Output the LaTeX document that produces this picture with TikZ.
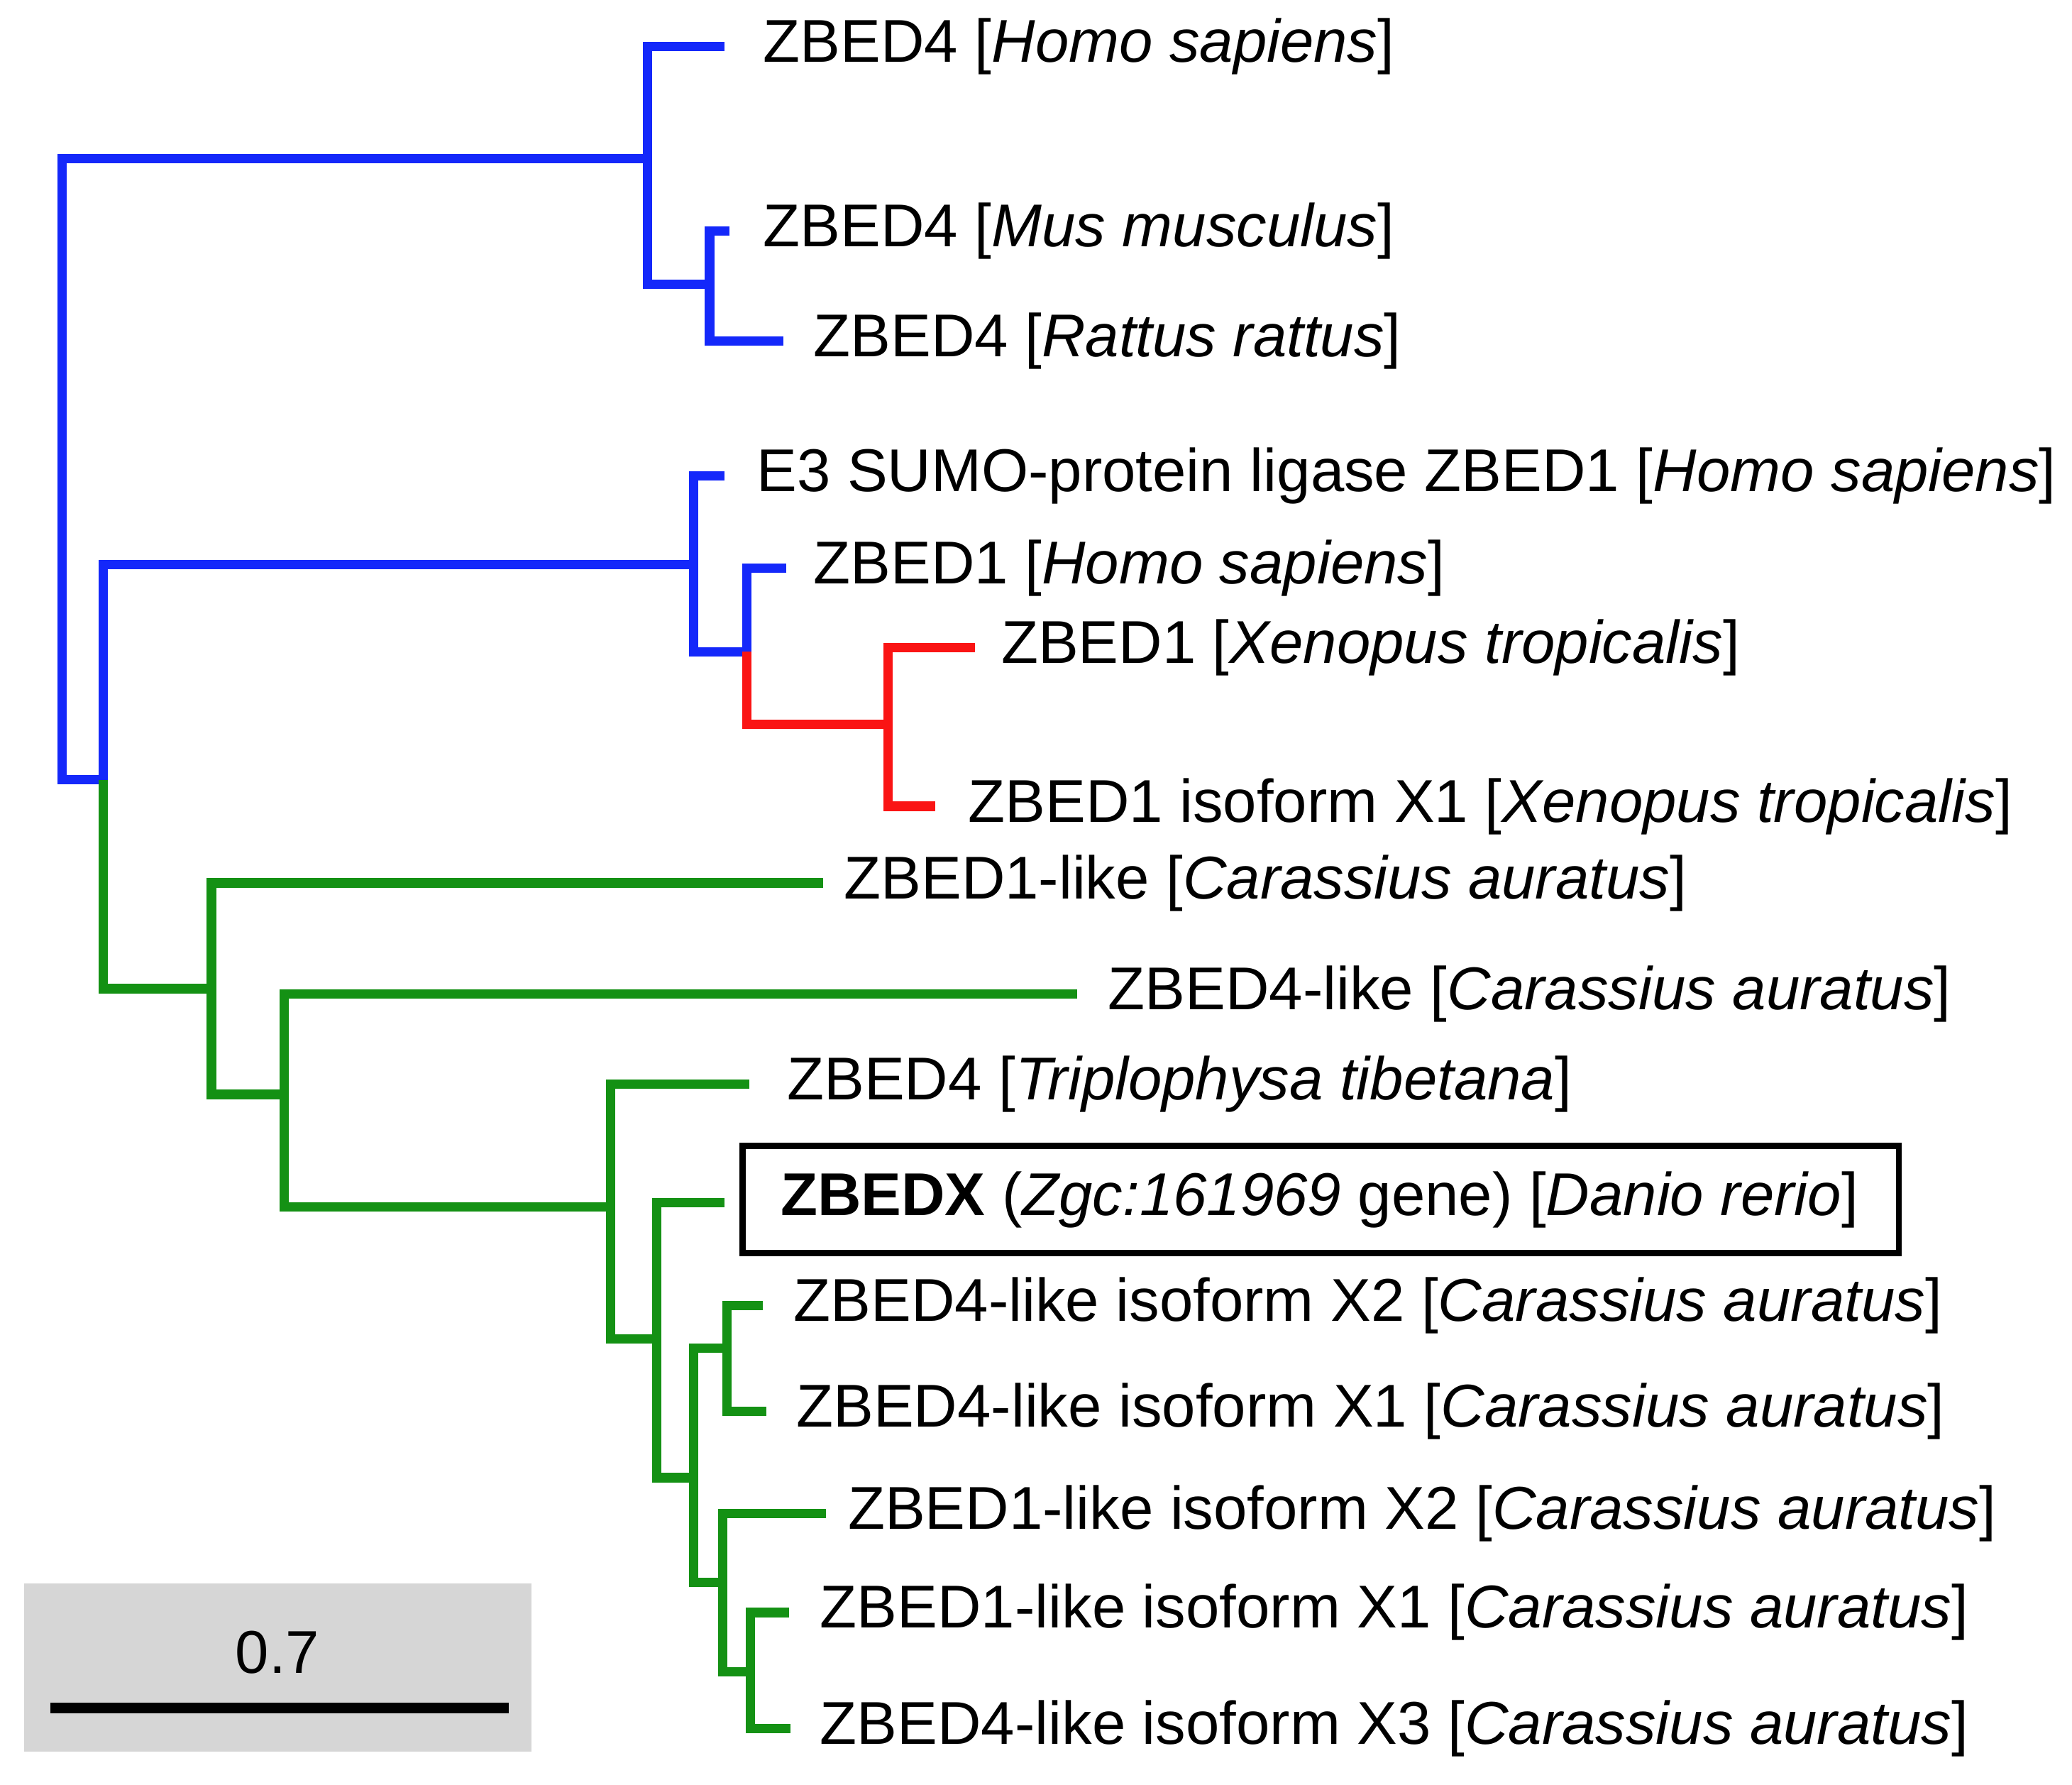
\documentclass[tikz,border=0pt]{standalone}
\usepackage{fontspec}
\setmainfont{Liberation Sans}
\definecolor{tb}{RGB}{20,40,250}
\definecolor{tr}{RGB}{250,20,20}
\definecolor{tg}{RGB}{20,145,20}
\begin{document}
\begin{tikzpicture}[x=0.01cm,y=-0.01cm,line join=miter,
  br/.style={line width=2pt},
  lab/.style={anchor=west,inner sep=0pt,font=\fontsize{13pt}{15pt}\selectfont}]
\useasboundingbox (0,0) rectangle (1568,1350);
% blue
\draw[br,tb] (490,120) -- (47,120) -- (47,590) -- (78,590);
\draw[br,tb] (548,35) -- (490,35) -- (490,215) -- (537,215);
\draw[br,tb] (552,175) -- (537,175) -- (537,258) -- (593,258);
\draw[br,tb] (78,590) -- (78,427) -- (525,427);
\draw[br,tb] (548,360) -- (525,360) -- (525,493) -- (565,493);
\draw[br,tb] (595,430) -- (565,430) -- (565,493);
\draw[br,tr] (565,493) -- (565,548) -- (672,548);
\draw[br,tr] (738,490) -- (672,490) -- (672,610) -- (708,610);
% green
\draw[br,tg] (78,590) -- (78,748) -- (160,748);
\draw[br,tg] (623,668) -- (160,668) -- (160,828) -- (215,828);
\draw[br,tg] (815,752) -- (215,752) -- (215,913) -- (462,913);
\draw[br,tg] (567,820) -- (462,820) -- (462,1013) -- (497,1013);
\draw[br,tg] (548,910) -- (497,910) -- (497,1118) -- (525,1118);
\draw[br,tg] (550,1020) -- (525,1020) -- (525,1197) -- (547,1197);
\draw[br,tg] (577,988) -- (550,988) -- (550,1068) -- (580,1068);
\draw[br,tg] (625,1145) -- (547,1145) -- (547,1265) -- (568,1265);
\draw[br,tg] (597,1220) -- (568,1220) -- (568,1308) -- (598,1308);
% labels
\node[lab] (l1) at (577,35) {ZBED4 [\textit{Homo sapiens}]};
\node[lab] (l2) at (577,175) {ZBED4 [\textit{Mus musculus}]};
\node[lab] (l3) at (615,258) {ZBED4 [\textit{Rattus rattus}]};
\node[lab] (l4) at (572,360) {E3 SUMO-protein ligase ZBED1 [\textit{Homo sapiens}]};
\node[lab] (l5) at (615,430) {ZBED1 [\textit{Homo sapiens}]};
\node[lab] (l6) at (757,490) {ZBED1 [\textit{Xenopus tropicalis}]};
\node[lab] (l7) at (732,610) {ZBED1 isoform X1 [\textit{Xenopus tropicalis}]};
\node[lab] (l8) at (638,668) {ZBED1-like [\textit{Carassius auratus}]};
\node[lab] (l9) at (838,752) {ZBED4-like [\textit{Carassius auratus}]};
\node[lab] (l10) at (595,820) {ZBED4 [\textit{Triplophysa tibetana}]};
\node[lab] (l11) at (590,908) {\textbf{ZBEDX} (\textit{Zgc:161969} gene) [\textit{Danio rerio}]};
\draw[line width=1.3pt] (562,867) rectangle (1437,948);
\node[lab] (l12) at (600,988) {ZBED4-like isoform X2 [\textit{Carassius auratus}]};
\node[lab] (l13) at (602,1068) {ZBED4-like isoform X1 [\textit{Carassius auratus}]};
\node[lab] (l14) at (641,1145) {ZBED1-like isoform X2 [\textit{Carassius auratus}]};
\node[lab] (l15) at (620,1220) {ZBED1-like isoform X1 [\textit{Carassius auratus}]};
\node[lab] (l16) at (620,1308) {ZBED4-like isoform X3 [\textit{Carassius auratus}]};
% scale
\fill[black!16] (18,1198) rectangle (402,1325);
\node[inner sep=0pt,font=\fontsize{13pt}{15pt}\selectfont] (sc) at (210,1250) {0.7};
\draw[line width=2.3pt] (38,1292) -- (385,1292);
\end{tikzpicture}
\end{document}
